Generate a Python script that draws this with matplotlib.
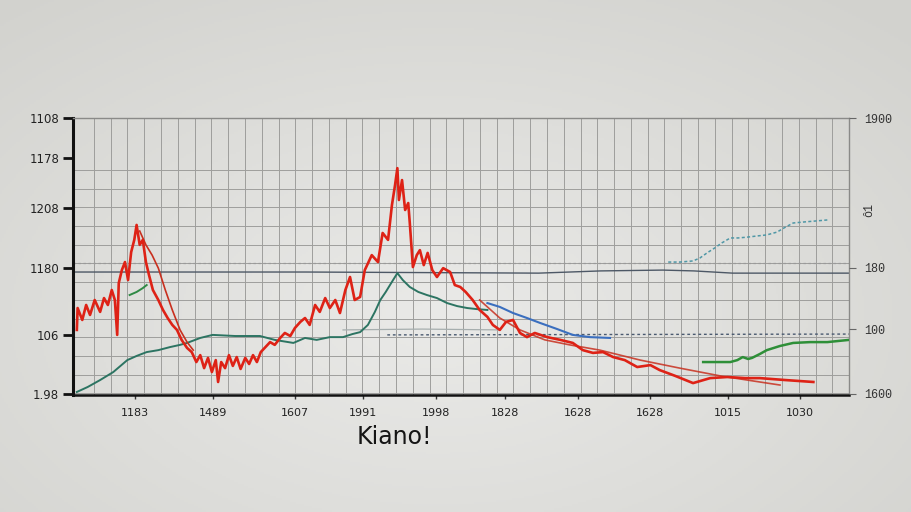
import numpy as np
import matplotlib
matplotlib.use("Agg")
import matplotlib.pyplot as plt

# values are on a 0-100 scale in both directions
red_x = [0.5, 0.6, 1.2, 1.7, 2.2, 2.8, 3.5, 4.0, 4.5, 5.0, 5.4, 5.7, 5.9, 6.3, 6.7, 7.1,
         7.5, 7.9, 8.2, 8.6, 9.0, 9.4, 9.8, 10.3, 11.0, 11.6, 12.2, 12.8, 13.4, 14.0, 14.7,
         15.3, 15.9, 16.4, 16.9, 17.4, 17.9, 18.4, 18.7, 19.1, 19.6, 20.1, 20.6, 21.1, 21.6,
         22.2, 22.7, 23.2, 23.7, 24.2, 24.7, 25.4, 26.0, 26.7, 27.3, 28.0, 28.6, 29.3, 29.9,
         30.5, 31.2, 31.8, 32.5, 33.1, 33.8, 34.4, 35.1, 35.7, 36.3, 37.0, 37.6, 38.5, 39.3,
         39.9, 40.6, 41.1, 41.5, 41.8, 42.0, 42.4, 42.8, 43.2, 43.4, 43.8, 44.3, 44.7, 45.2,
         45.7, 46.3, 46.9, 47.7, 48.6, 49.2, 49.9, 50.6, 51.5, 52.4, 53.4, 54.1, 55.0, 55.8,
         56.7, 57.6, 58.5, 59.5, 61.1, 62.8, 64.4, 65.7, 67.0, 68.3, 69.6, 71.1, 72.7, 74.4,
         75.6, 77.6, 79.9, 82.1, 84.3, 86.6, 88.5, 91.8, 95.4]
red_y = [23.5, 31.4, 27.1, 32.5, 28.9, 34.3, 30.0, 35.0, 32.5, 37.9, 34.3, 21.7, 40.4, 45.1, 48.0, 41.5,
         51.6, 56.0, 61.4, 54.2, 56.0, 48.0, 43.3, 37.9, 34.3, 30.7, 27.8, 25.3, 23.5, 19.9, 17.0,
         15.5, 11.9, 14.4, 9.7, 13.4, 8.3, 12.6, 4.7, 11.9, 9.7, 14.4, 10.5, 13.7, 9.4,
         13.4, 11.2, 14.4, 11.9, 15.5, 17.0, 19.1, 18.1, 20.6, 22.4, 21.3, 24.2, 26.4, 27.8,
         25.3, 32.5, 30.0, 35.0, 31.4, 34.3, 29.6, 37.9, 42.6, 34.3, 35.4, 45.1, 50.5, 48.0,
         58.5, 56.0, 68.6, 75.8, 81.9, 70.4, 77.6, 66.8, 69.3, 62.1, 46.2, 50.5, 52.3, 46.9,
         51.3, 45.1, 42.6, 45.8, 44.4, 39.7, 39.0, 37.2, 34.3, 30.7, 28.2, 25.3, 23.5, 26.4,
         27.1, 22.4, 20.9, 22.4, 20.9, 19.9, 18.8, 16.2, 15.2, 15.5, 13.7, 12.6, 10.1, 10.8,
         9.0, 6.9, 4.3, 6.1, 6.5, 6.1, 6.1, 5.4, 4.7]

red_left_x = [8.6, 9.4, 10.2, 11.0, 11.9, 12.8, 13.8, 14.7, 15.5]
red_left_y = [59.2, 54.2, 50.5, 45.8, 37.9, 30.7, 23.5, 19.1, 16.2]
red_right_x = [52.4, 55.0, 57.6, 60.8, 64.0, 67.9, 73.1, 78.2, 83.4, 88.5, 91.1]
red_right_y = [34.3, 27.8, 23.5, 19.9, 18.1, 16.2, 12.6, 9.7, 6.9, 4.7, 3.6]

teal_x = [0.5, 1.9, 3.5, 5.2, 7.0, 8.2, 9.5, 11.0, 12.5, 13.8, 14.7, 16.4, 18.0, 20.9, 24.1,
          26.0, 28.4, 29.9, 31.4, 33.1, 34.8, 36.0, 37.0, 38.0, 38.9, 39.6, 40.3, 41.0, 41.8,
          42.5, 43.4, 44.5, 45.6, 46.9, 48.2, 49.5, 50.8, 52.1, 53.4]
teal_y = [1.1, 2.9, 5.4, 8.3, 12.6, 14.1, 15.5, 16.2, 17.3, 18.1, 18.8, 20.6, 21.7, 21.3, 21.3,
          19.9, 18.8, 20.6, 19.9, 20.9, 20.9, 22.0, 22.7, 25.3, 30.0, 34.3, 37.2, 40.4, 44.0,
          41.5, 39.0, 37.2, 36.1, 35.0, 33.2, 32.1, 31.4, 31.0, 30.7]
green_bit_x = [7.3, 8.2, 9.0, 9.5]
green_bit_y = [36.1, 37.2, 38.6, 39.7]

blue_x = [53.4, 55.0, 56.7, 58.5, 60.2, 62.4, 64.4, 66.6, 69.2]
blue_y = [33.2, 31.8, 29.6, 27.8, 26.0, 23.8, 21.7, 20.9, 20.6]

green_x = [81.2, 83.1, 84.7, 85.6, 86.3, 87.0, 87.5, 88.5, 89.4, 91.1, 92.8, 95.0, 97.2, 100.0]
green_y = [11.9, 11.9, 11.9, 12.6, 13.7, 13.0, 13.4, 14.8, 16.2, 17.7, 18.8, 19.1, 19.1, 19.9]

rise_x = [76.7, 78.2, 79.9, 80.8, 81.7, 82.7, 83.6, 84.7, 85.7, 86.9, 88.1, 89.4, 90.7, 91.8,
          92.8, 94.3, 95.6, 97.2]
rise_y = [48.0, 48.0, 48.4, 49.5, 51.3, 53.1, 54.9, 56.7, 56.7, 57.0, 57.4, 57.8, 58.8, 60.6,
          62.1, 62.5, 62.8, 63.2]

level_x = [0, 30, 60, 68, 76, 80, 85, 100]
level_y = [44.4, 44.4, 44.0, 44.8, 45.1, 44.8, 44.0, 44.0]
upper_dots_x = [0, 100]
upper_dots_y = [47.7, 47.7]
lower_dots_x = [40.5, 100]
lower_dots_y = [21.7, 22.0]
gray_x = [34.8, 45.0, 55.0]
gray_y = [23.5, 23.8, 23.5]

left_ticks = [100, 85.5, 67.5, 46, 21.5, 0.5]
left_labels = ["1108", "1178", "1208", "1180", "106", "1.98"]
right_ticks = [100, 46, 23.8, 0.4]
right_labels = ["1900", "180", "100", "1600"]
x_ticks = [8.0, 18.0, 28.6, 37.4, 46.8, 55.7, 65.1, 74.4, 84.4, 93.7]
x_labels = ["1183", "1489", "1607", "1991", "1998", "1828", "1628", "1628", "1015", "1030"]

fig = plt.figure(figsize=(9.12, 5.12), dpi=100)

# soft paper-like background
bg = fig.add_axes([0, 0, 1, 1])
yy, xx = np.mgrid[0:1:256j, 0:1:456j]
r = np.sqrt(((xx - 0.48) / 0.75) ** 2 + ((yy - 0.62) / 0.8) ** 2)
c0 = np.array([234, 234, 232]) / 255
c1 = np.array([210, 210, 206]) / 255
t = np.clip(r, 0, 1)[..., None]
bg.imshow(c0 * (1 - t) + c1 * t, aspect="auto", extent=[0, 1, 0, 1])
bg.axis("off")

ax = fig.add_axes([0.080, 0.2285, 0.851, 0.541])
ax.set_facecolor("none")
ax.set_xlim(0, 100)
ax.set_ylim(0, 100)

grid_col = "#9e9e9c"
ax.vlines(np.linspace(2.7, 100, 46), 0, 100, color=grid_col, lw=0.7, zorder=1)
ax.hlines(0.7 + 6.7 * np.arange(13), 0, 100, color=grid_col, lw=0.7, zorder=1)

ax.plot(upper_dots_x, upper_dots_y, color="#9a9a9a", lw=0.9, ls=(0, (2, 2)), zorder=2)
ax.plot(level_x, level_y, color="#4d5866", lw=1.0, zorder=2)
ax.plot(lower_dots_x, lower_dots_y, color="#4a5a70", lw=1, ls=(0, (2, 2)), zorder=2)
ax.plot(gray_x, gray_y, color="#a6aeae", lw=0.9, zorder=2)
ax.plot(rise_x, rise_y, color="#4f97a6", lw=1.1, ls=(0, (2, 1.5)), zorder=2)

ax.plot(teal_x, teal_y, color="#2c7462", lw=1.4, zorder=3)
ax.plot(green_bit_x, green_bit_y, color="#2f8a45", lw=1.4, zorder=3)
ax.plot(blue_x, blue_y, color="#3b6fbf", lw=1.5, zorder=3)
ax.plot(green_x, green_y, color="#2e8f38", lw=1.8, zorder=3)

ax.plot(red_left_x, red_left_y, color="#c8301f", lw=1.2, zorder=4)
ax.plot(red_right_x, red_right_y, color="#c8301f", lw=1.2, alpha=0.85, zorder=4)
ax.plot(red_x, red_y, color="#de2216", lw=1.9, zorder=5)

for s in ["top", "right"]:
    ax.spines[s].set_color("#8a8a88")
    ax.spines[s].set_linewidth(1.0)
ax.spines["left"].set_linewidth(2.2)
ax.spines["bottom"].set_linewidth(1.8)
ax.spines["left"].set_color("#111111")
ax.spines["bottom"].set_color("#111111")

ax.set_yticks(left_ticks)
ax.set_yticklabels(left_labels, fontsize=8.5, color="#222222")
ax.tick_params(axis="y", length=7, width=2, pad=3, color="#111111")
ax.set_xticks(x_ticks)
ax.set_xticklabels(x_labels, fontsize=8, color="#222222")
ax.tick_params(axis="x", length=3, width=1, pad=6, color="#333333")

ax2 = ax.twinx()
ax2.set_ylim(0, 100)
ax2.set_yticks(right_ticks)
ax2.set_yticklabels(right_labels, fontsize=8.5, color="#333333", family="Liberation Mono")
ax2.tick_params(axis="y", length=5, width=0.8, pad=6, color="#666666")
for s in ax2.spines.values():
    s.set_visible(False)
fig.text(0.953, 0.59, "ô1", rotation=90, fontsize=8.5, color="#333333",
         family="Liberation Mono", ha="center", va="center")

fig.text(0.433, 0.147, "Kiano!", fontsize=17, color="#151515",
         family="Liberation Sans Narrow", ha="center", va="center")

fig.savefig("out.png", dpi=100)
